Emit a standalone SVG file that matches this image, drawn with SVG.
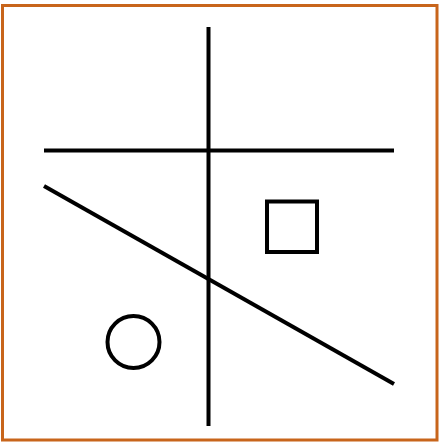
<svg xmlns="http://www.w3.org/2000/svg" width="441" height="446" viewBox="0 0 441 446">
<style>
.ln{stroke:#000;stroke-width:4;fill:none}
</style>
<rect x="0" y="0" width="441" height="446" fill="#fff"/>
<rect x="2.5" y="5.5" width="434.5" height="434.5" fill="none" stroke="#C8651B" stroke-width="3"/>
<g id="lines">
<line class="ln" x1="208.5" y1="27" x2="208.5" y2="426"/>
<line class="ln" x1="44" y1="150.5" x2="394" y2="150.5"/>
<line class="ln" x1="44" y1="186" x2="394" y2="384"/>
</g>
<g id="square"><rect class="ln" x="267" y="201.5" width="50" height="50.5"/></g>
<g id="circle"><circle class="ln" cx="133.5" cy="342" r="26"/></g>
</svg>
